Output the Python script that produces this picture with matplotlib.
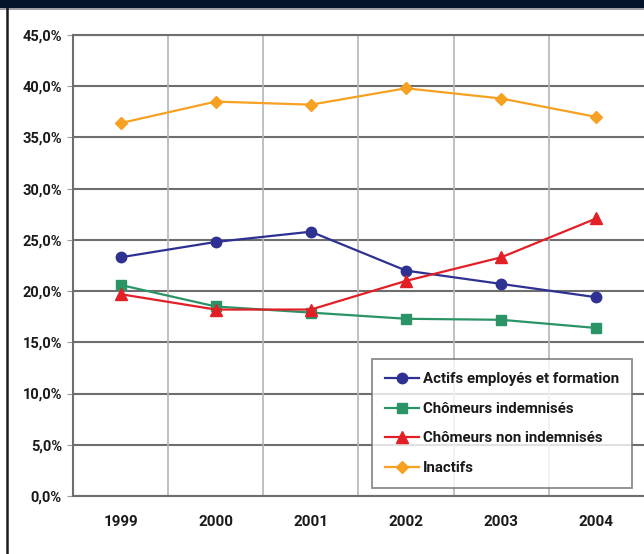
import matplotlib
matplotlib.use("Agg")
import matplotlib.pyplot as plt
from matplotlib.patches import Rectangle
from matplotlib.lines import Line2D
from matplotlib.ticker import FuncFormatter, MultipleLocator

years = ["1999", "2000", "2001", "2002", "2003", "2004"]
actifs = [23.3, 24.8, 25.8, 22.0, 20.7, 19.4]
chom_indem = [20.6, 18.5, 17.9, 17.3, 17.2, 16.4]
chom_non_indem = [19.7, 18.2, 18.2, 21.0, 23.3, 27.1]
inactifs = [36.4, 38.5, 38.2, 39.8, 38.8, 37.0]

series = [
    ("Actifs employés et formation", actifs, "#2E3192", "o", 7.5),
    ("Chômeurs indemnisés", chom_indem, "#2A9466", "s", 7.0),
    ("Chômeurs non indemnisés", chom_non_indem, "#E21F26", "^", 8.0),
    ("Inactifs", inactifs, "#F7A123", "D", 6.5),
]

plt.rcParams["font.family"] = ["Roboto", "DejaVu Sans"]
plt.rcParams["font.weight"] = "bold"

W, H = 644, 554
fig = plt.figure(figsize=(W / 100, H / 100), dpi=100)
fig.patch.set_facecolor("white")

# header band and left border
fig.add_artist(Rectangle((0, 1 - 8 / H), 1, 8 / H, transform=fig.transFigure,
                         facecolor="#04152B", edgecolor="none", zorder=0))
fig.add_artist(Line2D([0, 1], [1 - 9 / H, 1 - 9 / H], transform=fig.transFigure,
                      color="#8A8F96", lw=1.2))
fig.add_artist(Line2D([6.5 / W, 6.5 / W], [0, 1 - 8 / H], transform=fig.transFigure,
                      color="#1A1A1A", lw=1.8))

ax = fig.add_axes([73 / W, 58 / H, 571 / W, 461 / H])
x = list(range(len(years)))

for label, vals, color, marker, ms in series:
    ax.plot(x, vals, color=color, marker=marker, markersize=ms, lw=1.6,
            markeredgecolor=color, label=label, zorder=3)

ax.set_xlim(-0.5, len(years) - 0.5)
ax.set_ylim(0, 45)
ax.yaxis.set_major_locator(MultipleLocator(5))
ax.yaxis.set_major_formatter(FuncFormatter(lambda v, p: f"{v:.1f}%".replace(".", ",")))
ax.set_xticks(x)
ax.set_xticklabels(years)

# category separators
for b in [i + 0.5 for i in range(len(years) - 1)]:
    ax.axvline(b, color="#B5B5B5", lw=1.2, zorder=1)
ax.yaxis.grid(True, color="#6E6E6E", lw=1.5, zorder=1)
ax.set_axisbelow(True)

for side in ["top", "left", "bottom"]:
    ax.spines[side].set_color("#6E6E6E")
    ax.spines[side].set_linewidth(1.5)
ax.spines["right"].set_visible(False)

ax.tick_params(axis="y", length=4, color="#9A9A9A", labelsize=10.5, pad=4,
               labelcolor="#1A1A1A")
ax.tick_params(axis="x", length=0, labelsize=11, pad=14, labelcolor="#1A1A1A")
for t in ax.get_xticklabels() + ax.get_yticklabels():
    t.set_fontweight("bold")

leg = ax.legend(loc="lower right", bbox_to_anchor=(559 / 571, 8 / 461),
                frameon=True, fancybox=False, edgecolor="#6E6E6E",
                prop={"size": 10.8, "weight": "bold"}, handlelength=2.3,
                handletextpad=0.25, labelspacing=1.05, borderpad=0.85,
                borderaxespad=0)
leg.get_frame().set_linewidth(1.3)
for t in leg.get_texts():
    t.set_color("#1A1A1A")

fig.savefig("out.png", dpi=100)
